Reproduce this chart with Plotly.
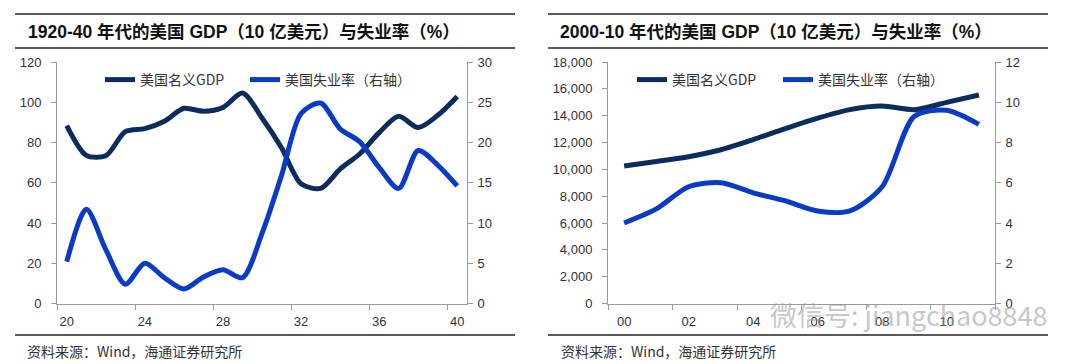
import plotly.graph_objects as go
from plotly.subplots import make_subplots

# ---- data ----
years_a = list(range(1920, 1941))
gdp_a = [88.4, 73.6, 73.4, 85.4, 86.9, 90.6, 97.0, 95.5, 97.4, 104.6, 92.2,
         77.4, 59.5, 57.2, 66.8, 74.3, 84.9, 93.0, 87.4, 93.5, 102.9]
unemp_a = [5.2, 11.7, 6.7, 2.4, 5.0, 3.2, 1.8, 3.3, 4.2, 3.2, 8.7,
           15.9, 23.6, 24.9, 21.7, 20.1, 16.9, 14.3, 19.0, 17.2, 14.6]
xticks_a = [1920, 1924, 1928, 1932, 1936, 1940]
xlabels_a = ["20", "24", "28", "32", "36", "40"]

years_b = list(range(2000, 2012))
gdp_b = [10252, 10582, 10936, 11458, 12214, 13037, 13815, 14452, 14713,
         14449, 14992, 15543]
unemp_b = [4.0, 4.7, 5.8, 6.0, 5.5, 5.1, 4.6, 4.6, 5.8, 9.3, 9.6, 8.9]
xticks_b = [2000, 2002, 2004, 2006, 2008, 2010]
xlabels_b = ["00", "02", "04", "06", "08", "10"]

title_a = "1920-40 年代的美国 GDP（10 亿美元）与失业率（%）"
title_b = "2000-10 年代的美国 GDP（10 亿美元）与失业率（%）"
source = "资料来源：Wind，海通证券研究所"
name_gdp = "美国名义GDP"
name_un = "美国失业率（右轴）"

C_GDP = "#0d2c5e"
C_UN = "#0a3bc6"
AX = "#9a9a9a"
TXT = "#333333"
FONT = "Liberation Sans, Arial, Noto Sans CJK SC, sans-serif"
CJK = "Noto Sans CJK SC, sans-serif"

W, H = 1080, 364
def px(x): return x / W
def py(y): return 1 - y / H

fig = make_subplots(rows=1, cols=2,
                    specs=[[{"secondary_y": True}, {"secondary_y": True}]])

def line(color):
    return dict(color=color, width=5, shape="spline", smoothing=0.8)

fig.add_trace(go.Scatter(x=years_a, y=gdp_a, name=name_gdp, mode="lines",
                         line=line(C_GDP), legend="legend"),
              row=1, col=1, secondary_y=False)
fig.add_trace(go.Scatter(x=years_a, y=unemp_a, name=name_un, mode="lines",
                         line=line(C_UN), legend="legend2"),
              row=1, col=1, secondary_y=True)
fig.add_trace(go.Scatter(x=years_b, y=gdp_b, name=name_gdp, mode="lines",
                         line=line(C_GDP), legend="legend3"),
              row=1, col=2, secondary_y=False)
fig.add_trace(go.Scatter(x=years_b, y=unemp_b, name=name_un, mode="lines",
                         line=line(C_UN), legend="legend4"),
              row=1, col=2, secondary_y=True)

ydom = [py(303.5), py(62)]
xdom_a = [px(57), px(467)]
xdom_b = [px(608), px(995)]

common_y = dict(showgrid=False, zeroline=False, showline=True, linecolor=AX,
                linewidth=1, ticks="outside", ticklen=5, tickcolor=AX,
                automargin=False,
                tickfont=dict(family=FONT, size=13, color=TXT), domain=ydom)
common_x = dict(showgrid=False, zeroline=False, showline=True, linecolor=AX,
                linewidth=1, ticks="", automargin=False, ticklabelstandoff=6,
                tickfont=dict(family=FONT, size=13, color=TXT))

fig.update_layout(
    xaxis=dict(common_x, domain=xdom_a, range=[1919.5, 1940.5],
               tickvals=xticks_a, ticktext=xlabels_a,
               minor=dict(ticks="outside", ticklen=5, tickcolor=AX, tick0=1919.5, dtick=4)),
    xaxis2=dict(common_x, domain=xdom_b, range=[1999.5, 2011.5],
                tickvals=xticks_b, ticktext=xlabels_b,
                minor=dict(ticks="outside", ticklen=5, tickcolor=AX, tick0=1999.5, dtick=2)),
    yaxis=dict(common_y, range=[0, 120], dtick=20, ticklabelstandoff=7),
    yaxis2=dict(common_y, range=[0, 30], dtick=5, ticklabelstandoff=2),
    yaxis3=dict(common_y, range=[0, 18000], dtick=2000, tickformat=",d",
                ticklabelstandoff=7),
    yaxis4=dict(common_y, range=[0, 12], dtick=2, ticklabelstandoff=2),
)

legend_common = dict(orientation="h", xanchor="left", yanchor="middle",
                     bgcolor="rgba(0,0,0,0)", font=dict(family=CJK, size=14, color=TXT),
                     itemwidth=30, tracegroupgap=0)
fig.update_layout(
    legend=dict(legend_common, x=px(100), y=py(80)),
    legend2=dict(legend_common, x=px(245), y=py(80)),
    legend3=dict(legend_common, x=px(632), y=py(80)),
    legend4=dict(legend_common, x=px(778), y=py(80)),
)

shapes = []
for x0, x1 in [(15, 515), (548, 1048)]:
    for yy in (14, 48, 335):
        shapes.append(dict(type="line", xref="paper", yref="paper",
                           x0=px(x0), x1=px(x1), y0=py(yy), y1=py(yy),
                           line=dict(color="#5a5a5a", width=2)))
fig.update_layout(shapes=shapes)

annotations = [
    dict(text="<b>" + title_a + "</b>", x=px(26), y=py(32), xref="paper", yref="paper",
         xanchor="left", yanchor="middle", showarrow=False,
         font=dict(family=FONT, size=17.5, color="#111111")),
    dict(text="<b>" + title_b + "</b>", x=px(558), y=py(32), xref="paper", yref="paper",
         xanchor="left", yanchor="middle", showarrow=False,
         font=dict(family=FONT, size=17.5, color="#111111")),
    dict(text=source, x=px(25), y=py(351), xref="paper", yref="paper",
         xanchor="left", yanchor="middle", showarrow=False,
         font=dict(family=CJK, size=14, color=TXT)),
    dict(text=source, x=px(559), y=py(351), xref="paper", yref="paper",
         xanchor="left", yanchor="middle", showarrow=False,
         font=dict(family=CJK, size=14, color=TXT)),
    dict(text="微信号: jiangchao8848", x=px(768), y=py(314), xref="paper", yref="paper",
         xanchor="left", yanchor="middle", showarrow=False,
         font=dict(family=CJK, size=27, color="rgba(150,150,150,0.55)")),
]
fig.update_layout(annotations=annotations)

fig.update_layout(width=W, height=H,
                  margin=dict(l=0, r=0, t=0, b=0, pad=0, autoexpand=False),
                  plot_bgcolor="white", paper_bgcolor="white", showlegend=True)

fig.write_html("out.html", config={"displayModeBar": False},
               post_script="document.body.style.margin='0';")
